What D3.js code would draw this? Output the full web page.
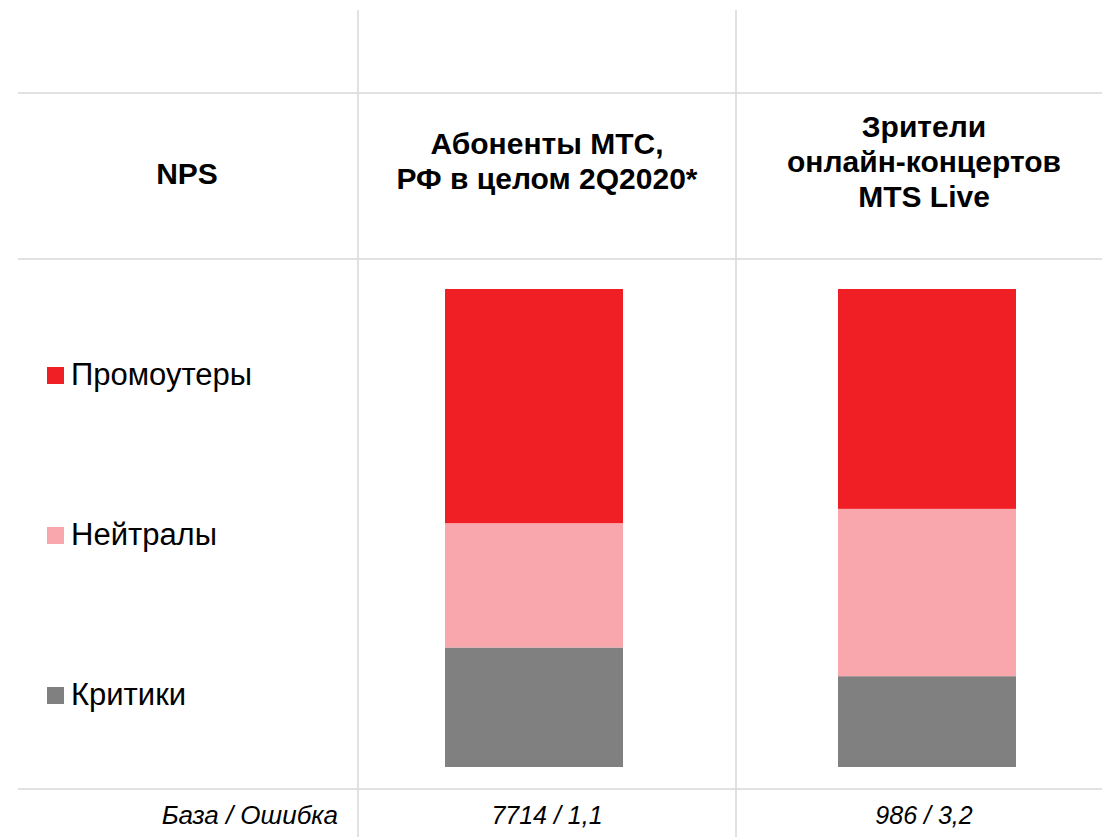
<!DOCTYPE html>
<html>
<head>
<meta charset="utf-8">
<script src="https://cdn.jsdelivr.net/npm/d3@7"></script>
<style>
  body { margin: 0; background: #fff; }
  svg { display: block; font-family: "Liberation Sans", Arial, sans-serif; }
</style>
</head>
<body>
<div id="chart"></div>
<script>
var width = 1102;
var height = 837;

// data
var groups = ["Абоненты МТС,\nРФ в целом 2Q2020*", "Зрители\nонлайн-концертов\nMTS Live"];
var segments = ["Критики", "Нейтралы", "Промоутеры"];
var critics = [25, 19];
var neutrals = [26, 35];
var promoters = [49, 46];
var baseLabels = ["7714 / 1,1", "986 / 3,2"];
var colors = {"Промоутеры": "#ef1f25", "Нейтралы": "#f9a7ad", "Критики": "#808080"};

var rows = groups.map(function(g, i) {
    return {group: g, "Критики": critics[i], "Нейтралы": neutrals[i], "Промоутеры": promoters[i]};
});

var svg = d3.select("#chart")
    .append("svg")
    .attr("width", width)
    .attr("height", height);

// table grid
var grid = svg.append("g").attr("stroke", "#d9d9d9").attr("stroke-width", 1.5);
[358, 736].forEach(function(x) {
    grid.append("line").attr("x1", x).attr("x2", x).attr("y1", 10).attr("y2", height);
});
[93, 259, 789].forEach(function(y) {
    grid.append("line").attr("x1", 18).attr("x2", width).attr("y1", y).attr("y2", y);
});

var x = d3.scalePoint()
    .domain(groups)
    .range([534, 927]);
var barWidth = 178;

var y = d3.scaleLinear()
    .domain([0, 100])
    .range([767, 289]);

var stack = d3.stack().keys(segments);
var series = stack(rows);

svg.append("g")
    .selectAll("g")
    .data(series)
    .enter()
    .append("g")
        .attr("fill", function(d) { return colors[d.key]; })
    .selectAll("rect")
    .data(function(d) { return d; })
    .enter()
    .append("rect")
        .attr("x", function(d) { return x(d.data.group) - barWidth / 2; })
        .attr("y", function(d) { return y(d[1]); })
        .attr("width", barWidth)
        .attr("height", function(d) { return y(d[0]) - y(d[1]); });

// header
var header = svg.append("g")
    .attr("font-weight", "bold")
    .attr("font-size", 30)
    .attr("text-anchor", "middle")
    .attr("fill", "#000");

header.append("text")
    .attr("x", 187)
    .attr("y", 184)
    .text("NPS");

var colCenters = [547, 924];
var headerTop = [154, 137];
groups.forEach(function(g, i) {
    var lines = g.split("\n");
    var lh = 35;
    var t = header.append("text").attr("x", colCenters[i]).attr("y", headerTop[i]);
    lines.forEach(function(l, j) {
        t.append("tspan").attr("x", colCenters[i]).attr("dy", j === 0 ? 0 : lh).text(l);
    });
});

// legend
var legendY = {"Промоутеры": 375, "Нейтралы": 535, "Критики": 695};
var legend = svg.append("g")
    .selectAll("g")
    .data(segments)
    .enter()
    .append("g")
        .attr("transform", function(d) { return "translate(47," + legendY[d] + ")"; });

legend.append("rect")
    .attr("x", 0)
    .attr("y", -8)
    .attr("width", 17)
    .attr("height", 17)
    .attr("fill", function(d) { return colors[d]; });

legend.append("text")
    .attr("x", 24)
    .attr("y", 10)
    .attr("font-size", 31)
    .attr("fill", "#000")
    .text(function(d) { return d; });

// footer
var footer = svg.append("g")
    .attr("font-style", "italic")
    .attr("font-size", 25)
    .attr("fill", "#000");

footer.append("text")
    .attr("x", 338)
    .attr("y", 824)
    .attr("text-anchor", "end")
    .attr("font-size", 26)
    .text("База / Ошибка");

footer.selectAll(".base")
    .data(baseLabels)
    .enter()
    .append("text")
        .attr("class", "base")
        .attr("x", function(d, i) { return colCenters[i]; })
        .attr("y", 824)
        .attr("text-anchor", "middle")
        .text(function(d) { return d; });
</script>
</body>
</html>
